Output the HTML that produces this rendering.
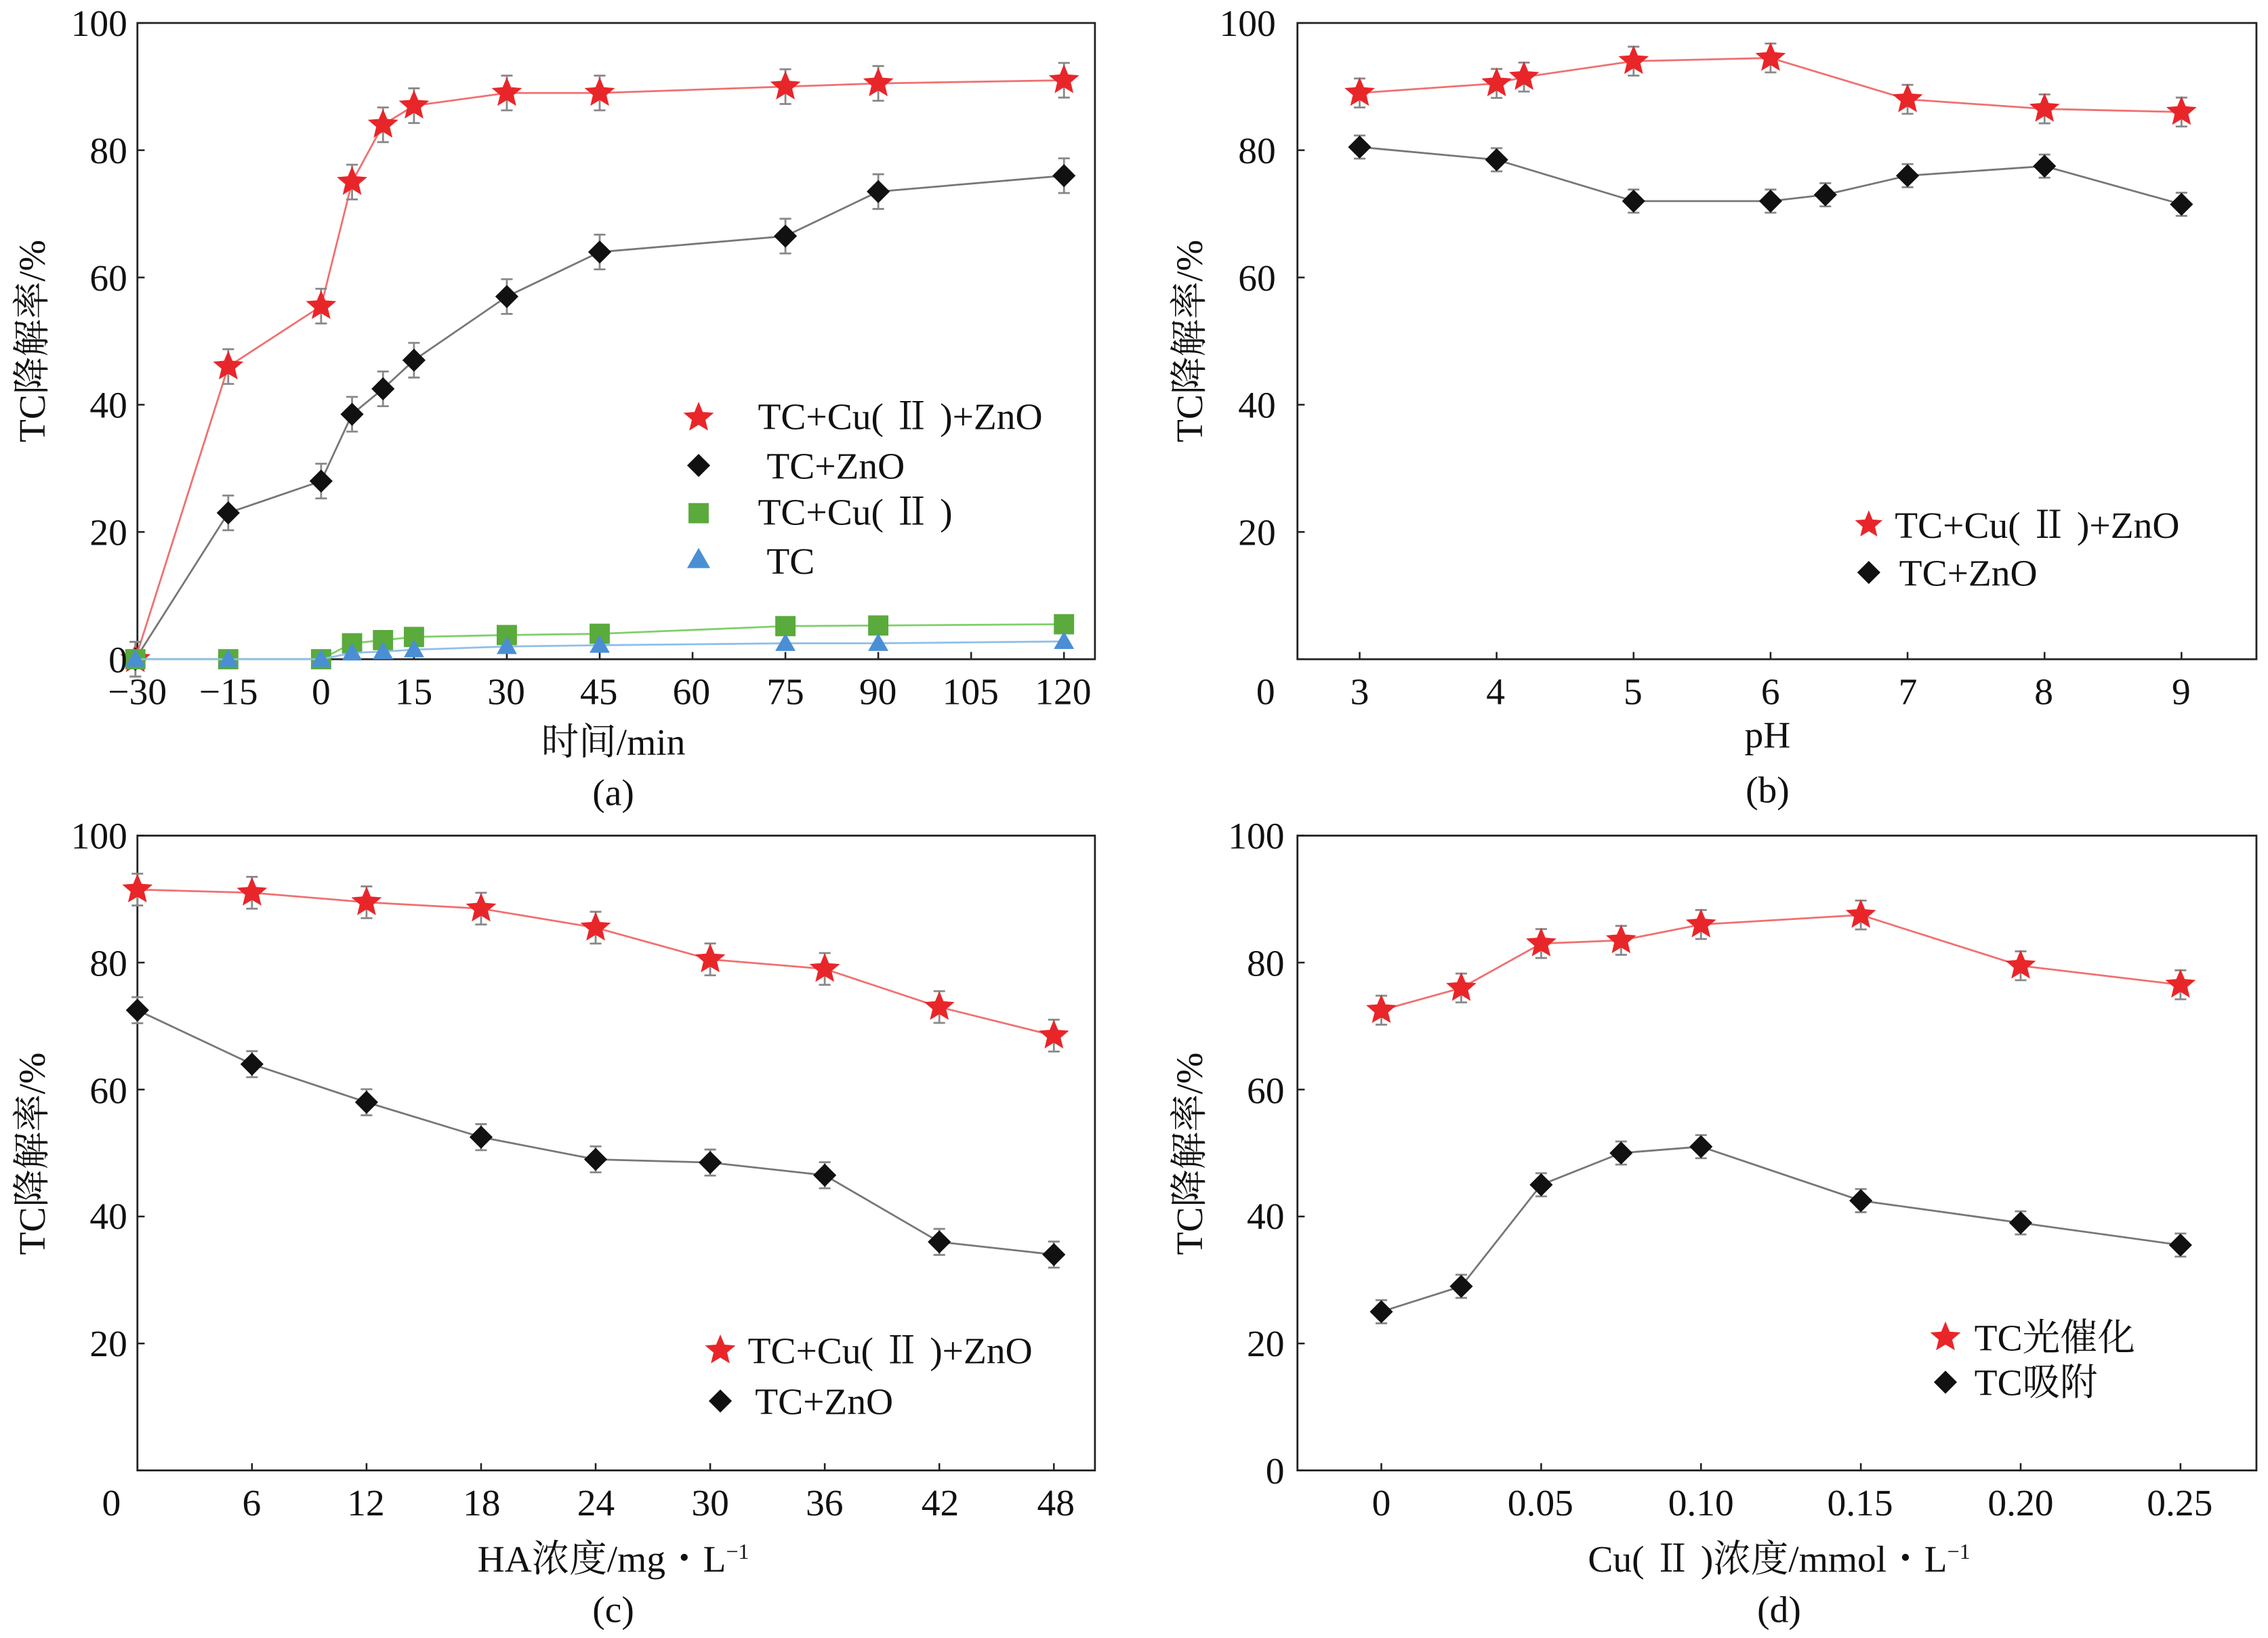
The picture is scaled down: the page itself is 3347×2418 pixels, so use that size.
<!DOCTYPE html>
<html><head><meta charset="utf-8"><style>
html,body{margin:0;padding:0;background:#fff;}
svg{display:block}
text{font-family:"Liberation Serif","Noto Serif CJK SC",serif;font-size:26px;fill:#111}
</style></head><body>
<svg id="s" width="3347" height="2418" viewBox="0 0 1568 1131" xmlns="http://www.w3.org/2000/svg">
<rect width="1568" height="1131" fill="#fff"/>
<g fill="none" stroke="#222" stroke-width="1.3">
<rect x="95" y="15" width="662" height="440"/>
<rect x="897" y="15" width="663" height="440"/>
<rect x="95" y="577" width="662" height="439"/>
<rect x="897" y="577" width="663" height="439"/>
</g>
<g id="ticks" stroke="#222" stroke-width="1.2"></g>
<g id="data"></g>
<g text-anchor="end">
<text x="88" y="24">100</text><text x="88" y="112">80</text><text x="88" y="200">60</text><text x="88" y="288">40</text><text x="88" y="376">20</text><text x="88" y="464">0</text>
<text x="882" y="24">100</text><text x="882" y="112">80</text><text x="882" y="200">60</text><text x="882" y="288">40</text><text x="882" y="376">20</text>
<text x="88" y="586">100</text><text x="88" y="674">80</text><text x="88" y="762">60</text><text x="88" y="849">40</text><text x="88" y="937">20</text>
<text x="888" y="586">100</text><text x="888" y="674">80</text><text x="888" y="762">60</text><text x="888" y="849">40</text><text x="888" y="937">20</text><text x="888" y="1025">0</text>
</g>
<g text-anchor="middle">
<text x="95" y="486">−30</text><text x="158" y="486">−15</text><text x="222" y="486">0</text><text x="286" y="486">15</text><text x="350" y="486">30</text><text x="414" y="486">45</text><text x="478" y="486">60</text><text x="543" y="486">75</text><text x="607" y="486">90</text><text x="671" y="486">105</text><text x="735" y="486">120</text>
<text x="875" y="486">0</text><text x="940" y="486">3</text><text x="1034" y="486">4</text><text x="1129" y="486">5</text><text x="1224" y="486">6</text><text x="1319" y="486">7</text><text x="1413" y="486">8</text><text x="1508" y="486">9</text>
<text x="77" y="1047">0</text><text x="174" y="1047">6</text><text x="253" y="1047">12</text><text x="333" y="1047">18</text><text x="412" y="1047">24</text><text x="491" y="1047">30</text><text x="570" y="1047">36</text><text x="650" y="1047">42</text><text x="730" y="1047">48</text>
<text x="955" y="1047">0</text><text x="1065" y="1047">0.05</text><text x="1176" y="1047">0.10</text><text x="1286" y="1047">0.15</text><text x="1397" y="1047">0.20</text><text x="1507" y="1047">0.25</text>
<text x="424" y="521">时间/min</text><text x="424" y="556">(a)</text>
<text x="1222" y="516">pH</text><text x="1222" y="554">(b)</text>
<text x="424" y="1086">HA浓度/mg・L<tspan dy="-9" font-size="15">−1</tspan></text><text x="424" y="1121">(c)</text>
<text x="1230" y="1086">Cu( Ⅱ )浓度/mmol・L<tspan dy="-9" font-size="15">−1</tspan></text><text x="1230" y="1121">(d)</text>
<text transform="translate(31,235) rotate(-90)">TC降解率/%</text>
<text transform="translate(831,235) rotate(-90)">TC降解率/%</text>
<text transform="translate(31,797) rotate(-90)">TC降解率/%</text>
<text transform="translate(831,797) rotate(-90)">TC降解率/%</text>
</g>
<g>
<text x="524" y="296">TC+Cu( Ⅱ )+ZnO</text><text x="530" y="330">TC+ZnO</text><text x="524" y="362">TC+Cu( Ⅱ )</text><text x="530" y="396">TC</text>
<text x="1310" y="371">TC+Cu( Ⅱ )+ZnO</text><text x="1313" y="404">TC+ZnO</text>
<text x="517" y="942">TC+Cu( Ⅱ )+ZnO</text><text x="522" y="977">TC+ZnO</text>
<text x="1365" y="933">TC光催化</text><text x="1365" y="964">TC吸附</text>
</g>
</svg>
<script>
var NS="http://www.w3.org/2000/svg",D=document.getElementById("data"),T=document.getElementById("ticks");
function el(n,a,p){var e=document.createElementNS(NS,n);for(var k in a)e.setAttribute(k,a[k]);(p||D).appendChild(e);return e;}
function star(x,y,r){var p=[];for(var i=0;i<10;i++){var a=-Math.PI/2+i*Math.PI/5,rr=i%2?r*0.45:r;p.push((x+rr*Math.cos(a)).toFixed(1)+","+(y+rr*Math.sin(a)).toFixed(1));}el("polygon",{points:p.join(" "),fill:"#e8262a"});}
function dia(x,y,r){el("polygon",{points:[x,y-r,x+r,y,x,y+r,x-r,y].join(" "),fill:"#111"});}
function sq(x,y,r){el("rect",{x:x-r,y:y-r,width:2*r,height:2*r,fill:"#5aaa3c"});}
function tri(x,y,r){el("polygon",{points:[x,y-r,x+r,y+r*0.75,x-r,y+r*0.75].join(" "),fill:"#4a8fd4"});}
function series(pts,fx,fy,col,mk,r,err){
 var P=pts.map(function(p){return [fx(p[0]),fy(p[1])];});
 el("polyline",{points:P.map(function(p){return p.join(",")}).join(" "),fill:"none",stroke:col,"stroke-width":1.3});
 if(err)P.forEach(function(p){el("path",{d:"M"+p[0]+","+(p[1]-err)+"V"+(p[1]+err)+"M"+(p[0]-4)+","+(p[1]-err)+"h8M"+(p[0]-4)+","+(p[1]+err)+"h8",stroke:"#888","stroke-width":1.3,fill:"none"});});
 P.forEach(function(p){mk(p[0],p[1],r);});}
var ya=function(v){return 455-4.4*v},yc=function(v){return 1016-4.39*v};
var xa=function(v){return 222+v*4.28},xb=function(v){return 940+(v-3)*94.7},xc=function(v){return 95+v*13.2},xd=function(v){return 955+v*2210};
function tk(x,y,dx,dy){el("line",{x1:x,y1:y,x2:x+dx,y2:y+dy},T);}
[-30,-15,0,15,30,45,60,75,90,105,120].forEach(function(v){tk(xa(v),455,0,-5);});
[3,4,5,6,7,8,9].forEach(function(v){tk(xb(v),455,0,-5);});
[0,6,12,18,24,30,36,42,48].forEach(function(v){tk(xc(v),1016,0,-5);});
[0,.05,.1,.15,.2,.25].forEach(function(v){tk(xd(v),1016,0,-5);});
[0,20,40,60,80,100].forEach(function(v){tk(95,ya(v),5,0);tk(897,ya(v),5,0);tk(95,yc(v),5,0);tk(897,yc(v),5,0);});
var R="#f07070",K="#777";
series([[-30,0],[-15,46],[0,55.5],[5,75],[10,84],[15,87],[30,89],[45,89],[75,90],[90,90.5],[120,91]],xa,ya,R,star,11,12);
series([[-30,0],[-15,23],[0,28],[5,38.5],[10,42.5],[15,47],[30,57],[45,64],[75,66.5],[90,73.5],[120,76]],xa,ya,K,dia,8,12);
series([[-30,0],[-15,0],[0,0],[5,2.5],[10,3],[15,3.5],[30,3.8],[45,4],[75,5.2],[90,5.3],[120,5.5]],xa,ya,"#7fcf6a",sq,7,0);
series([[-30,0],[-15,0],[0,0],[5,1],[10,1.2],[15,1.5],[30,2],[45,2.2],[75,2.5],[90,2.5],[120,2.8]],xa,ya,"#8fbfe8",tri,7,0);
series([[3,89],[4,90.5],[4.2,91.5],[5,94],[6,94.5],[7,88],[8,86.5],[9,86]],xb,ya,R,star,11,10);
series([[3,80.5],[4,78.5],[5,72],[6,72],[6.4,73],[7,76],[8,77.5],[9,71.5]],xb,ya,K,dia,8,8);
series([[0,91.5],[6,91],[12,89.5],[18,88.5],[24,85.5],[30,80.5],[36,79],[42,73],[48,68.5]],xc,yc,R,star,11,11);
series([[0,72.5],[6,64],[12,58],[18,52.5],[24,49],[30,48.5],[36,46.5],[42,36],[48,34]],xc,yc,K,dia,8,9);
series([[0,72.5],[.025,76],[.05,83],[.075,83.5],[.1,86],[.15,87.5],[.2,79.5],[.25,76.5]],xd,yc,R,star,11,10);
series([[0,25],[.025,29],[.05,45],[.075,50],[.1,51],[.15,42.5],[.2,39],[.25,35.5]],xd,yc,K,dia,8,8);
star(483,288,11);dia(483,321,8);sq(483,354,7);tri(483,386,8);
star(1292,362,10);dia(1292,395,8);star(498,933,11);dia(498,968,8);star(1345,924,11);dia(1345,955,8);
</script>
</body></html>
